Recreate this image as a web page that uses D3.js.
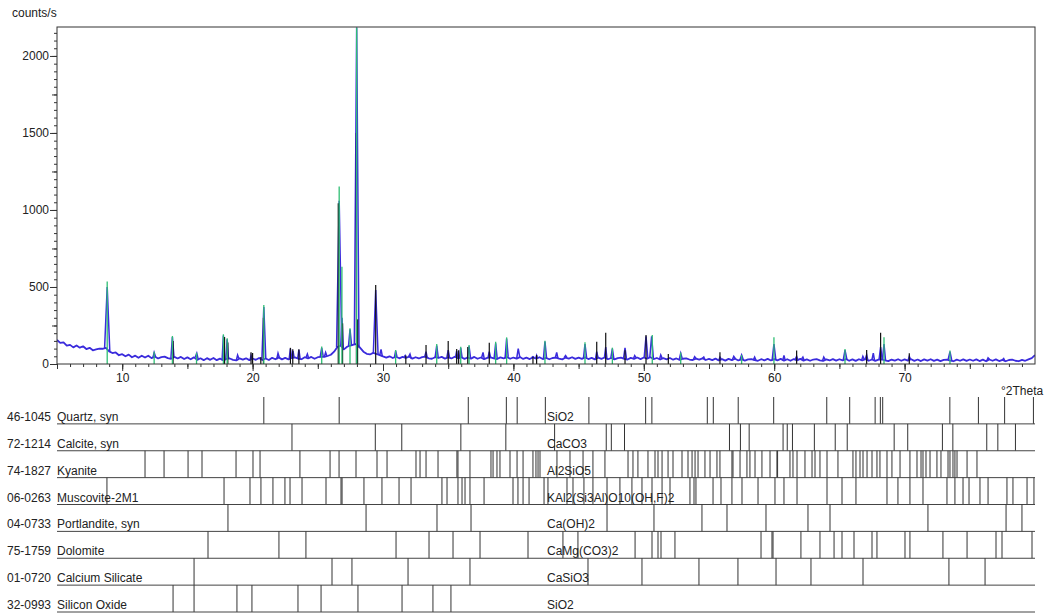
<!DOCTYPE html>
<html>
<head>
<meta charset="utf-8">
<script src="https://cdn.jsdelivr.net/npm/d3@7"></script>
<style>
  body { margin: 0; background: #fff; }
  svg { display: block; font-family: "Liberation Sans", Arial, sans-serif; }
</style>
</head>
<body>
<svg id="chart" width="1046" height="615"></svg>
<script>
// measured scan: background counts on a 0.25 deg grid from 5 to 80 deg
const bgStart = 5;
const bgStep = 0.25;
const bgCounts = [
  156,137,141,119,124,108,120,106,115,97,105,89,95,100,99,104,82,71,75,57,   // 5
  64,50,61,44,54,40,54,42,54,38,49,36,45,48,38,34,46,36,46,32,              // 10
  43,31,43,27,37,25,38,27,39,25,35,24,33,36,27,23,36,28,37,25,              // 15
  36,27,39,26,36,26,40,31,43,30,40,30,39,43,34,31,44,36,46,34,              // 20
  44,46,46,52,60,80,110,120,95,112,120,125,130,105,80,66,62,72,65,58,       // 25
  49,41,50,39,47,37,46,39,48,35,44,36,45,48,37,34,44,39,46,35,              // 30
  43,36,47,37,44,33,42,35,46,34,42,32,40,43,36,32,43,36,46,34,              // 35
  42,35,45,33,41,32,43,34,44,32,40,31,39,42,35,30,42,35,44,33,              // 40
  41,33,43,32,40,30,41,33,42,31,39,30,38,41,33,29,40,33,42,32,              // 45
  42,34,44,32,39,29,38,30,39,28,36,27,34,37,29,26,35,28,37,26,              // 50
  33,25,35,23,32,22,33,25,34,23,31,22,30,32,25,21,31,24,33,23,              // 55
  32,24,33,22,31,21,32,24,33,22,30,21,29,31,24,20,30,23,32,22,              // 60
  31,23,32,21,30,20,31,23,32,21,29,20,28,30,23,19,29,22,31,21,              // 65
  30,22,31,20,29,19,30,22,31,20,28,19,27,29,22,18,28,21,30,20,              // 70
  29,21,30,19,28,18,29,21,30,19,27,18,26,28,21,18,27,21,30,38,              // 75
  58
];

// scan peaks: [2theta, top counts, half width]
const scanPeaks = [
  [8.85, 500, 0.2], [12.45, 75, 0.1], [13.85, 175, 0.12], [15.72, 70, 0.12],
  [17.76, 185, 0.1], [18.05, 160, 0.1], [18.85, 58, 0.1], [19.88, 55, 0.08],
  [20.86, 370, 0.15], [21.95, 70, 0.1], [22.9, 100, 0.1], [23.1, 85, 0.08],
  [23.55, 92, 0.1], [24.2, 65, 0.1], [25.3, 105, 0.12], [25.6, 75, 0.1],
  [26.64, 1060, 0.2], [26.86, 300, 0.1], [27.47, 225, 0.12], [27.98, 2185, 0.18],
  [29.44, 480, 0.18], [29.85, 95, 0.1], [30.97, 85, 0.1], [31.7, 55, 0.08],
  [32.07, 65, 0.1], [33.3, 80, 0.1], [34.12, 120, 0.12], [35.0, 90, 0.1],
  [35.65, 85, 0.08], [35.96, 105, 0.1], [36.6, 115, 0.12], [37.67, 75, 0.1],
  [38.15, 80, 0.1], [38.64, 135, 0.12], [39.48, 165, 0.12], [40.37, 100, 0.12],
  [41.5, 48, 0.08], [41.78, 55, 0.08], [42.42, 145, 0.12], [43.32, 75, 0.1],
  [44.0, 55, 0.1], [45.49, 130, 0.12], [46.39, 80, 0.1], [47.08, 110, 0.1],
  [47.59, 100, 0.12], [48.56, 105, 0.12], [49.3, 55, 0.1], [50.17, 180, 0.14],
  [50.6, 180, 0.14], [51.3, 58, 0.1], [52.83, 70, 0.12], [53.9, 48, 0.12],
  [54.6, 45, 0.1], [55.84, 45, 0.1], [56.9, 50, 0.12], [57.5, 58, 0.15],
  [58.5, 45, 0.1], [59.98, 130, 0.14], [60.75, 55, 0.1], [61.72, 50, 0.1],
  [62.2, 45, 0.1], [63.8, 45, 0.1], [65.43, 90, 0.14], [66.8, 50, 0.1],
  [67.09, 60, 0.1], [67.6, 70, 0.1], [68.16, 110, 0.12], [68.42, 130, 0.12],
  [70.36, 50, 0.1], [73.48, 80, 0.14], [76.4, 40, 0.12], [77.6, 36, 0.1]
];

// peak markers in the scan window: [2theta, counts]
const greenSticks = [
  [8.85, 535], [12.45, 80], [13.85, 182], [15.7, 73], [17.76, 193], [18.05, 167],
  [20.86, 383], [25.3, 113], [26.64, 1152], [26.85, 632], [27.47, 232], [27.98, 2185],
  [30.97, 91], [34.12, 130], [35.96, 112], [36.6, 123], [38.64, 145], [39.48, 173],
  [42.42, 151], [45.49, 141], [47.59, 106], [50.65, 188], [52.83, 74], [57.5, 58],
  [59.98, 173], [65.43, 97], [68.42, 173], [73.48, 87]
];
const blackSticks = [
  [13.9, 150], [17.85, 175], [18.1, 140], [19.88, 76], [20.0, 72], [20.63, 45],
  [20.83, 300], [22.9, 105], [23.08, 95], [23.55, 95], [26.57, 1043], [26.9, 264],
  [27.96, 1500], [28.05, 290], [29.44, 513], [31.75, 55], [33.3, 123], [35.0, 150],
  [35.65, 97], [35.8, 90], [36.5, 110], [38.15, 138], [41.5, 45], [41.78, 58],
  [46.39, 145], [47.08, 203], [48.56, 90], [50.17, 188], [51.88, 65], [55.84, 76],
  [61.72, 87], [67.09, 91], [68.16, 203], [70.36, 69]
];

// reference patterns
const phaseCodes = ["46-1045", "72-1214", "74-1827", "06-0263", "04-0733", "75-1759", "01-0720", "32-0993"];
const phaseNames = ["Quartz, syn", "Calcite, syn", "Kyanite", "Muscovite-2M1", "Portlandite, syn", "Dolomite", "Calcium Silicate", "Silicon Oxide"];
const phaseFormulas = ["SiO2", "CaCO3", "Al2SiO5", "KAl2(Si3Al)O10(OH,F)2", "Ca(OH)2", "CaMg(CO3)2", "CaSiO3", "SiO2"];

const quartzLines = [20.86, 26.64, 36.54, 39.46, 40.29, 42.45, 45.79, 50.14, 50.62, 54.87, 55.33, 57.24, 59.96, 64.03, 65.79, 67.74, 68.14, 68.32, 73.47, 75.66, 77.67, 79.88];
const calciteLines = [23.02, 29.41, 31.44, 35.97, 39.42, 43.16, 47.12, 47.51, 48.52, 56.57, 57.41, 58.08, 60.68, 61.0, 61.4, 63.08, 64.68, 65.6, 69.2, 70.24, 72.9, 73.7, 76.3, 77.15, 78.5];
const kyaniteLines = [11.75, 13.21, 15.05, 16.12, 18.73, 20.03, 20.57, 23.63, 25.94, 26.63, 27.93, 29.54, 30.31, 32.53, 32.84, 33.30, 34.22, 35.67, 35.75, 36.67, 38.28, 38.44, 38.74, 38.97, 39.74, 40.28, 40.74, 41.50, 41.73, 41.89, 42.04, 43.34, 44.34, 45.34, 46.10, 47.02, 48.79, 49.17, 49.55, 50.32, 50.86, 51.09, 51.40, 51.86, 52.24, 52.93, 53.39, 53.70, 53.93, 54.16, 54.69, 55.08, 55.61, 55.84, 56.76, 56.84, 57.38, 57.91, 58.14, 58.53, 59.06, 59.68, 60.21, 60.26, 61.21, 61.44, 61.75, 62.36, 62.90, 63.13, 63.51, 64.05, 64.89, 66.04, 66.27, 66.58, 66.81, 67.12, 67.50, 67.88, 68.11, 68.65, 69.03, 69.65, 70.41, 70.95, 71.26, 71.41, 71.64, 71.95, 72.48, 72.79, 73.33, 73.48, 73.71, 73.86, 74.02, 74.79, 75.55];
const muscoviteLines = [8.83, 17.81, 19.80, 20.64, 21.56, 22.48, 22.87, 23.79, 25.63, 26.78, 26.86, 28.54, 29.92, 31.23, 32.15, 34.52, 34.91, 35.75, 36.06, 36.29, 36.67, 37.75, 39.97, 40.35, 40.74, 41.20, 42.35, 42.65, 44.11, 44.57, 45.41, 46.10, 47.18, 48.17, 49.09, 49.86, 50.63, 51.40, 52.01, 53.54, 53.85, 54.00, 55.31, 55.92, 56.76, 57.53, 58.76, 60.06, 60.75, 61.75, 64.05, 65.20, 66.27, 68.65, 69.49, 70.41, 71.41, 73.25, 73.86, 74.48, 74.94, 75.78, 76.40, 77.85, 78.31, 79.39, 79.92];
const portlanditeLines = [18.11, 28.70, 34.14, 36.75, 47.18, 50.78, 54.46, 56.38, 59.37, 62.59, 64.28, 71.79, 77.78, 79.0];
const dolomiteLines = [16.58, 22.02, 24.09, 31.0, 33.53, 35.37, 37.44, 41.12, 43.80, 44.95, 49.33, 50.63, 51.09, 51.32, 52.39, 58.99, 59.83, 59.91, 62.05, 63.51, 64.59, 65.20, 66.12, 67.50, 67.88, 70.03, 70.41, 72.94, 74.79, 77.01, 77.47, 79.77];
const caSilicateLines = [15.51, 26.09, 27.62, 31.92, 36.67, 45.72, 49.86, 54.23, 57.22, 60.14, 62.82, 66.81, 73.40, 76.17];
const siOxideLines = [13.90, 15.51, 18.80, 19.95, 23.48, 25.25, 28.08, 31.46, 33.83, 35.21];
const phaseLines = [quartzLines, calciteLines, kyaniteLines, muscoviteLines, portlanditeLines, dolomiteLines, caSilicateLines, siOxideLines];

const xTicks = [10, 20, 30, 40, 50, 60, 70];
const yTicks = [0, 500, 1000, 1500, 2000];

// ---------------------------------------------------------------
const svg = d3.select("#chart");
const textColor = "#222";
const fontSize = 12;
const blue = "#3a2bdc";
const green = "#2fbf74";

const x = d3.scaleLinear().domain([5, 80]).range([57, 1035]);
const y = d3.scaleLinear().domain([0, 2188]).range([364, 27]);

const line = d3.line().x(d => x(d[0])).y(d => y(d[1]));

svg.append("clipPath").attr("id", "plotClip")
  .append("rect")
  .attr("x", x(5)).attr("y", y(2188))
  .attr("width", x(80) - x(5)).attr("height", y(0) - y(2188));

const plot = svg.append("g").attr("clip-path", "url(#plotClip)");

// background of the scan
const bgPoints = bgCounts.map((c, i) => [bgStart + i * bgStep, c]);
plot.append("path")
  .datum(bgPoints)
  .attr("d", line)
  .attr("fill", "none")
  .attr("stroke", blue)
  .attr("stroke-width", 1.8)
  .attr("stroke-linejoin", "round");

// peaks of the scan
function bgAt(t) {
  const i = Math.max(0, Math.min(bgCounts.length - 1, Math.round((t - bgStart) / bgStep)));
  return bgCounts[i];
}
plot.selectAll(".peak")
  .data(scanPeaks)
  .join("path")
  .attr("class", "peak")
  .attr("d", d => line([[d[0] - d[2], bgAt(d[0] - d[2])], [d[0], d[1]], [d[0] + d[2], bgAt(d[0] + d[2])]]))
  .attr("fill", "none")
  .attr("stroke", blue)
  .attr("stroke-width", 1.5);

// peak markers
plot.selectAll(".blk")
  .data(blackSticks)
  .join("line")
  .attr("class", "blk")
  .attr("x1", d => x(d[0])).attr("x2", d => x(d[0]))
  .attr("y1", y(0)).attr("y2", d => y(d[1]))
  .attr("stroke", "#111")
  .attr("stroke-width", 1.2);

plot.selectAll(".grn")
  .data(greenSticks)
  .join("line")
  .attr("class", "grn")
  .attr("x1", d => x(d[0])).attr("x2", d => x(d[0]))
  .attr("y1", y(0)).attr("y2", d => y(d[1]))
  .attr("stroke", green)
  .attr("stroke-width", 1.3);

// frame
svg.append("rect")
  .attr("x", x(5)).attr("y", y(2188))
  .attr("width", x(80) - x(5)).attr("height", y(0) - y(2188))
  .attr("fill", "none")
  .attr("stroke", "#333")
  .attr("stroke-width", 1);

// axes: minor, medium, major ticks
function styleAxis(g) {
  g.select(".domain").remove();
  g.selectAll(".tick line").attr("stroke", "#333");
  g.selectAll(".tick text").attr("fill", textColor).attr("font-size", fontSize)
    .attr("font-family", "Liberation Sans, Arial, sans-serif");
}

const yAxisG = svg.append("g").attr("transform", `translate(${x(5)},0)`);
yAxisG.append("g").call(d3.axisLeft(y).tickValues(d3.range(0, 2188, 50)).tickSize(3).tickFormat("")).call(styleAxis);
yAxisG.append("g").call(d3.axisLeft(y).tickValues(d3.range(0, 2188, 250)).tickSize(5).tickFormat("")).call(styleAxis);
yAxisG.append("g").call(d3.axisLeft(y).tickValues(yTicks).tickSize(7).tickPadding(1).tickFormat(d3.format("d"))).call(styleAxis);

const xAxisG = svg.append("g").attr("transform", `translate(0,${y(0)})`);
xAxisG.append("g").call(d3.axisBottom(x).tickValues(d3.range(6, 80, 1)).tickSize(3).tickFormat("")).call(styleAxis);
xAxisG.append("g").call(d3.axisBottom(x).tickValues(d3.range(5, 80, 5)).tickSize(5).tickFormat("")).call(styleAxis);
xAxisG.append("g").call(d3.axisBottom(x).tickValues(xTicks).tickSize(7).tickPadding(2).tickFormat(d3.format("d"))).call(styleAxis);

svg.append("text")
  .attr("x", 12).attr("y", 17)
  .attr("font-size", fontSize).attr("fill", textColor)
  .text("counts/s");

svg.append("text")
  .attr("x", 1001).attr("y", 395)
  .attr("font-size", fontSize).attr("fill", textColor)
  .text("°2Theta");

// reference pattern panel
const rows = d3.scaleBand().domain(phaseCodes).range([397, 612]).padding(0);
const bw = rows.bandwidth();

phaseCodes.forEach((code, i) => {
  const base = rows(code) + bw;
  const g = svg.append("g");
  g.selectAll("line.stick")
    .data(phaseLines[i])
    .join("line")
    .attr("class", "stick")
    .attr("x1", d => x(d)).attr("x2", d => x(d))
    .attr("y1", base).attr("y2", base - bw)
    .attr("stroke", "#333")
    .attr("stroke-width", 1);
  g.append("line")
    .attr("x1", x(5)).attr("x2", x(80))
    .attr("y1", base).attr("y2", base)
    .attr("stroke", "#444").attr("stroke-width", 1);
  g.append("text").attr("x", 7).attr("y", base - 3)
    .attr("font-size", fontSize).attr("fill", textColor).text(code);
  g.append("text").attr("x", x(5)).attr("y", base - 3)
    .attr("font-size", fontSize).attr("fill", textColor).text(phaseNames[i]);
  g.append("text").attr("x", 547).attr("y", base - 3)
    .attr("font-size", fontSize).attr("fill", textColor).text(phaseFormulas[i]);
});
</script>
</body>
</html>
